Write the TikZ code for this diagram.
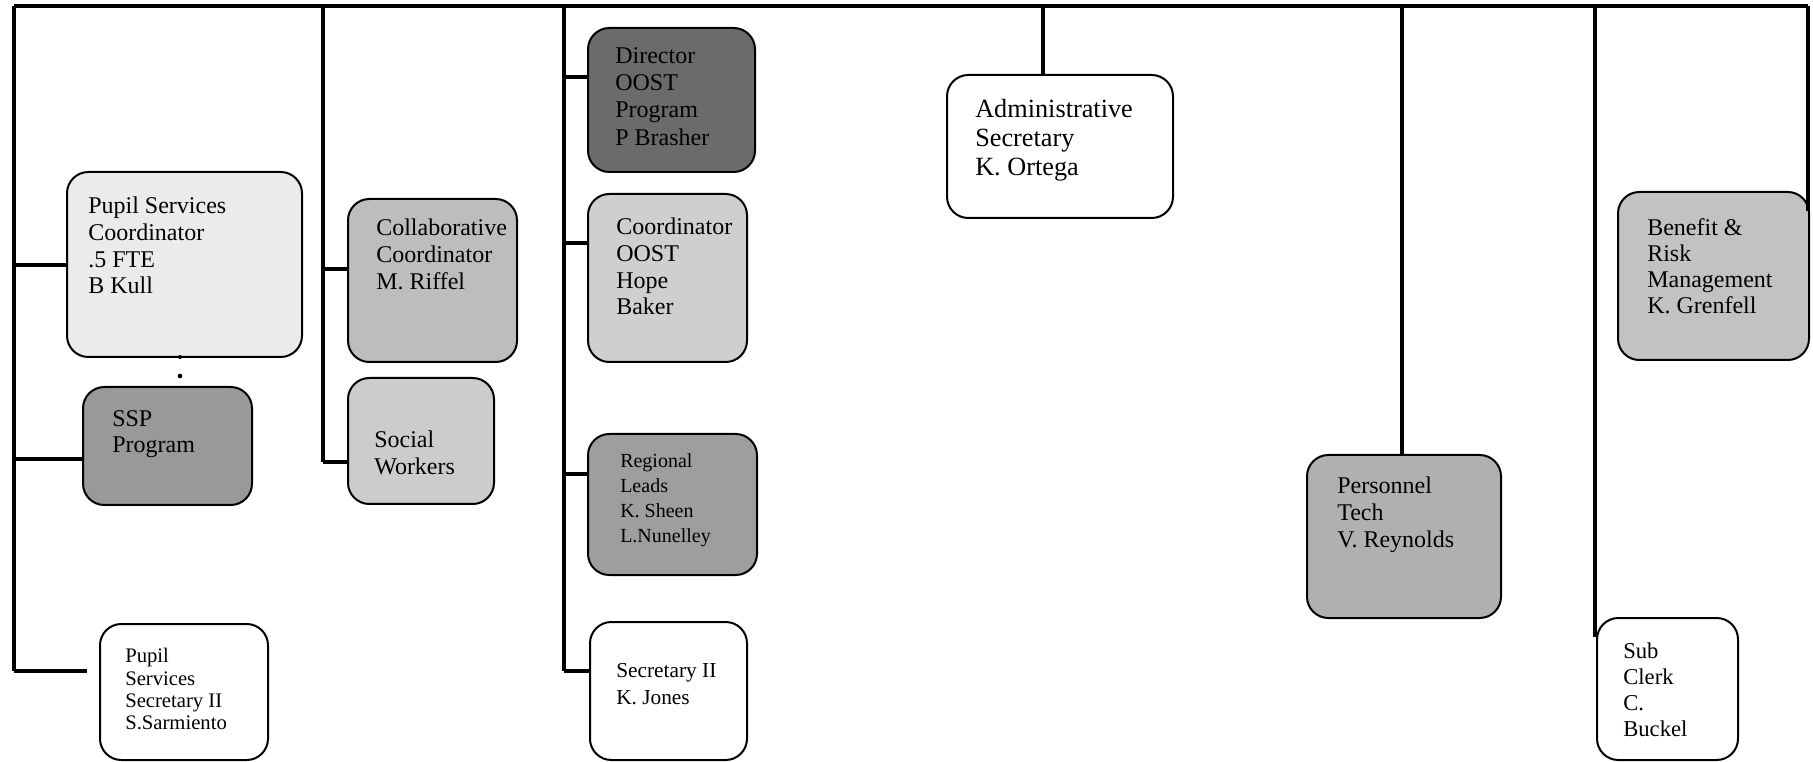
\documentclass[tikz,border=0pt]{standalone}
\usepackage{fontspec}
\setmainfont{Liberation Serif}
\usetikzlibrary{fit,calc}
% fill tones of the position cards
\definecolor{gDir}{gray}{0.42}
\definecolor{gSSP}{gray}{0.60}
\definecolor{gReg}{gray}{0.62}
\definecolor{gPer}{gray}{0.69}
\definecolor{gCol}{gray}{0.74}
\definecolor{gBen}{gray}{0.76}
\definecolor{gSoc}{gray}{0.80}
\definecolor{gCoo}{gray}{0.81}
\definecolor{gPsc}{gray}{0.92}
\begin{document}
\begin{tikzpicture}[x=0.75pt,y=-0.75pt,
  card/.style={draw=black, line width=1.5pt, rounded corners=16pt, inner sep=0pt},
  caption/.style={anchor=north west, inner sep=0pt, align=left, font=\fontsize{18}{20}\selectfont},
  trunk/.style={line width=2.4pt},
  branch/.style={line width=3pt},
  joint/.style={circle, fill=black, inner sep=0pt, minimum size=3.5pt}]
\useasboundingbox (0,0) rectangle (1813,762);

% ---------- position cards ----------
\node[card, fill=gPsc, fit={(67,172) (302,357)}] (psc) {};
\node[caption] (psc-t) at (88,197) {Pupil Services\\Coordinator\\.5 FTE\\B Kull};

\node[card, fill=gSSP, fit={(83,387) (252,505)}] (ssp) {};
\node[caption] (ssp-t) at (112,410) {SSP\\Program};

\node[card, fill=white, fit={(100,624) (268,760)}] (pss) {};
\node[caption, font=\fontsize{15.5}{16.8}\selectfont] (pss-t) at (125,648) {Pupil\\Services\\Secretary II\\S.Sarmiento};

\node[card, fill=gCol, fit={(348,199) (517,362)}] (col) {};
\node[caption] (col-t) at (376,219) {Collaborative\\Coordinator\\M. Riffel};

\node[card, fill=gSoc, fit={(348,378) (494,504)}] (soc) {};
\node[caption] (soc-t) at (374,431) {Social\\Workers};

\node[card, fill=gDir, fit={(588,28) (755,172)}] (dir) {};
\node[caption, font=\fontsize{18}{20.5}\selectfont] (dir-t) at (615,47) {Director\\OOST\\Program\\P Brasher};

\node[card, fill=gCoo, fit={(588,194) (747,362)}] (coo) {};
\node[caption] (coo-t) at (616,218) {Coordinator\\OOST\\Hope\\Baker};

\node[card, fill=gReg, fit={(588,434) (757,575)}] (reg) {};
\node[caption, font=\fontsize{15}{18.8}\selectfont] (reg-t) at (620,453) {Regional\\Leads\\K. Sheen\\L.Nunelley};

\node[card, fill=white, fit={(590,622) (747,760)}] (sec) {};
\node[caption, font=\fontsize{16}{20}\selectfont] (sec-t) at (616,663) {Secretary II\\K. Jones};

\node[card, fill=white, fit={(947,75) (1173,218)}] (adm) {};
\node[caption, font=\fontsize{19.7}{21.7}\selectfont] (adm-t) at (975,99) {Administrative\\Secretary\\K. Ortega};

\node[card, fill=gPer, fit={(1307,455) (1501,618)}] (per) {};
\node[caption] (per-t) at (1337,477) {Personnel\\Tech\\V. Reynolds};

\node[card, fill=white, fit={(1597,618) (1738,760)}] (sub) {};
\node[caption, font=\fontsize{17}{19.3}\selectfont] (sub-t) at (1623,643) {Sub\\Clerk\\C.\\Buckel};

\node[card, fill=gBen, fit={(1618,192) (1809,360)}] (ben) {};
\node[caption, font=\fontsize{18}{19.7}\selectfont] (ben-t) at (1647,218) {Benefit \&\\Risk\\Management\\K. Grenfell};

% ---------- reporting lines ----------
\coordinate (t-left) at (14,6);
\coordinate (t-right) at (1808,6);
\draw[trunk] (t-left) -- (t-right);

% first column
\coordinate (c1-end) at (14,671);
\coordinate (c1-psc) at (14,265);
\coordinate (c1-ssp) at (14,459);
\coordinate (c1-pss) at (87,671);
\draw[trunk] (t-left) -- (c1-end);
\draw[branch] (c1-psc) -- (c1-psc -| psc.west);
\draw[branch] (c1-ssp) -- (c1-ssp -| ssp.west);
\draw[branch] (c1-end) -- (c1-pss);
\node[joint, minimum size=3pt] (j0) at (180,357) {};
\node[joint] (j1) at (180,376) {};

% second column
\coordinate (c2-top) at (323,6);
\coordinate (c2-col) at (323,269);
\coordinate (c2-soc) at (323,462);
\draw[trunk] (c2-top) -- (c2-soc);
\draw[branch] (c2-col) -- (c2-col -| col.west);
\draw[branch] (c2-soc) -- (c2-soc -| soc.west);

% third column
\coordinate (c3-top) at (564,6);
\coordinate (c3-dir) at (564,77);
\coordinate (c3-coo) at (564,243);
\coordinate (c3-reg) at (564,474);
\coordinate (c3-sec) at (564,671);
\draw[trunk] (c3-top) -- (c3-sec);
\draw[branch] (c3-dir) -- (c3-dir -| dir.west);
\draw[branch] (c3-coo) -- (c3-coo -| coo.west);
\draw[branch] (c3-reg) -- (c3-reg -| reg.west);
\draw[branch] (c3-sec) -- (c3-sec -| sec.west);

% single drops
\coordinate (c4-top) at (1043,6);
\draw[trunk] (c4-top) -- (c4-top |- adm.north);
\coordinate (c5-top) at (1402,6);
\draw[trunk] (c5-top) -- (c5-top |- per.north);
\coordinate (c6-top) at (1595,6);
\draw[trunk] (c6-top) -- ($(c6-top |- sub.north)+(0,20)$);
\coordinate (c7-top) at (1808,6);
\draw[trunk] (c7-top) -- ($(c7-top |- ben.north)+(0,20)$);
\end{tikzpicture}
\end{document}
